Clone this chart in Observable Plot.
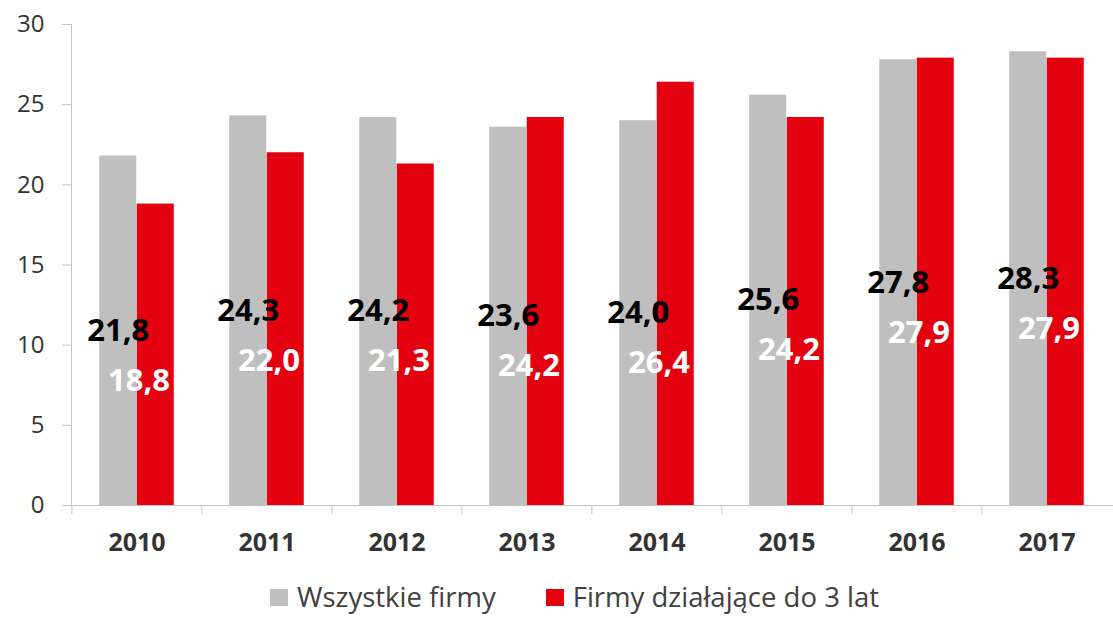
<!DOCTYPE html>
<html>
<head>
<meta charset="utf-8">
<script src="https://cdn.jsdelivr.net/npm/d3@7"></script>
<script src="https://cdn.jsdelivr.net/npm/@observablehq/plot@0.6"></script>
<style>
  html, body { margin: 0; padding: 0; background: #fff; overflow: hidden; }
  #chart { width: 1113px; height: 578px; }
  #chart svg { display: block; }
  .legend { display: flex; align-items: center; height: 38px; padding-top: 0px; padding-left: 270px;
            font-family: "Open Sans", sans-serif; font-size: 27.5px; line-height: 1.1; color: #404040; }
  .legend .item { display: flex; align-items: center; margin-right: 50px; }
  .legend .sw { width: 18px; height: 17px; margin-right: 9px; display: inline-block; }
</style>
</head>
<body>
<div id="chart"></div>
<script>
const years = ["2010", "2011", "2012", "2013", "2014", "2015", "2016", "2017"];
const allFirms = [21.8, 24.3, 24.2, 23.6, 24.0, 25.6, 27.8, 28.3];
const youngFirms = [18.8, 22.0, 21.3, 24.2, 26.4, 24.2, 27.9, 27.9];
const seriesNames = ["Wszystkie firmy", "Firmy działające do 3 lat"];
const seriesColors = ["#bfbfbf", "#e3000f"];
const yTicks = [0, 5, 10, 15, 20, 25, 30];

const W = 1113, H = 578, mL = 71, mR = 0, mT = 24, mB = 73;
const step = (W - mL - mR) / years.length;
const barW = 37.5;
const pad = 1 - barW / step;

const grayData = years.map((y, i) => ({year: y, value: allFirms[i]}));
const redData = years.map((y, i) => ({year: y, value: youngFirms[i], ref: allFirms[i]}));
const fmt = v => v.toFixed(1).replace(".", ",");

const chart = Plot.plot({
  width: W, height: H,
  marginLeft: mL, marginRight: mR, marginTop: mT, marginBottom: mB,
  style: {fontFamily: "'Open Sans', sans-serif", background: "#fff"},
  x: {type: "band", domain: years, paddingInner: pad, paddingOuter: pad / 2, axis: null, label: null},
  y: {domain: [0, 30], axis: null, label: null},
  marks: [
    Plot.barY(grayData, {x: "year", y: "value", fill: seriesColors[0], dx: -barW / 2, inset: 0}),
    Plot.barY(redData, {x: "year", y: "value", fill: seriesColors[1], dx: barW / 2, inset: 0}),
    Plot.frame({anchor: "left", stroke: "#c4c4c4"}),
    Plot.axisY({ticks: yTicks, tickSize: 9, tickPadding: 18, stroke: "#c4c4c4", fill: "#333",
                fontSize: 24, tickFormat: d => d, label: null}),
    Plot.ruleY([0], {stroke: "#c4c4c4"}),
    Plot.ruleX(years, {x: d => d, y1: 0, y2: -0.56, dx: -step / 2, stroke: "#c4c4c4"}),
    Plot.axisX({tickSize: 0, tickPadding: 28, fontSize: 25, fontWeight: "bold", fill: "#333", label: null}),
    Plot.text(grayData, {x: "year", y: d => d.value / 2, text: d => fmt(d.value), dx: -barW / 2,
                         fill: "#000", fontSize: 31, fontWeight: "bold"}),
    Plot.text(redData, {x: "year", y: d => d.ref / 2, text: d => fmt(d.value), dx: 2, dy: 50,
                        fill: "#fff", fontSize: 31, fontWeight: "bold"})
  ]
});
document.getElementById("chart").appendChild(chart);

const legend = document.createElement("div");
legend.className = "legend";
seriesNames.forEach((name, i) => {
  const item = document.createElement("div");
  item.className = "item";
  const sw = document.createElement("span");
  sw.className = "sw";
  sw.style.background = seriesColors[i];
  const label = document.createElement("span");
  label.textContent = name;
  item.appendChild(sw);
  item.appendChild(label);
  legend.appendChild(item);
});
document.body.appendChild(legend);
</script>
</body>
</html>
